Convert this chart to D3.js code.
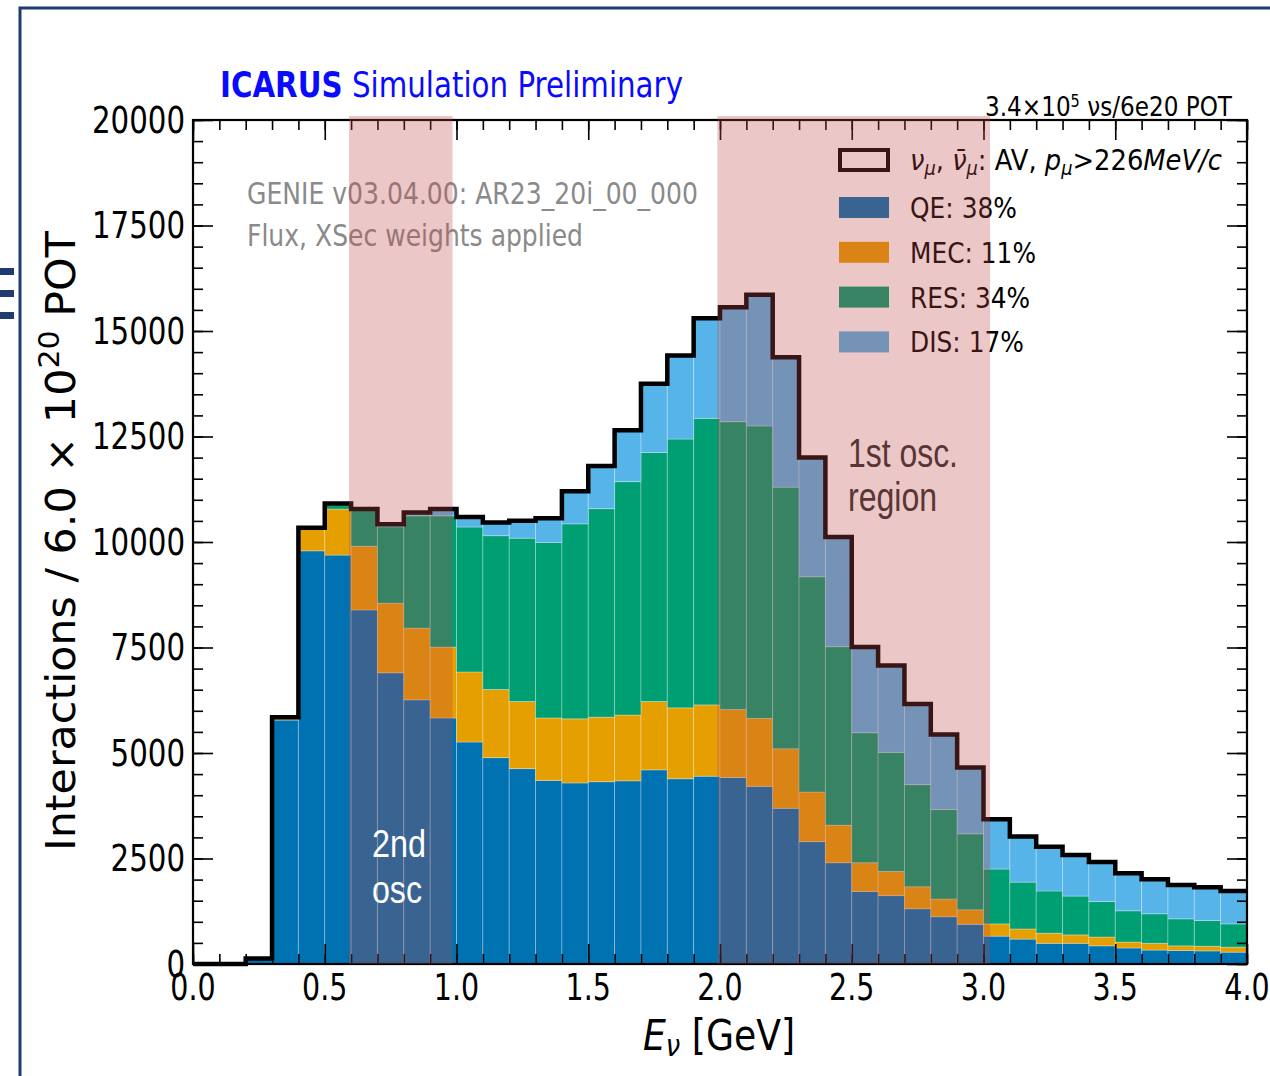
<!DOCTYPE html>
<html><head><meta charset="utf-8">
<script src="https://cdn.jsdelivr.net/npm/d3@7"></script>
<style>body{margin:0;background:#fff} svg{display:block} text{font-family:"DejaVu Sans",sans-serif}</style>
</head><body><svg id="c" width="1270" height="1076"></svg>
<script>
// ---------------- data ----------------
const binLow = [0.0,0.1,0.2,0.3,0.4,0.5,0.6,0.7,0.8,0.9,1.0,1.1,1.2,1.3,1.4,1.5,1.6,1.7,1.8,1.9,
                2.0,2.1,2.2,2.3,2.4,2.5,2.6,2.7,2.8,2.9,3.0,3.1,3.2,3.3,3.4,3.5,3.6,3.7,3.8,3.9];
const binWidth = 0.1;
const qe  = [0,0,120,5780,9790,9690,8390,6900,6260,5830, 5260,4890,4630,4350,4290,4320,4340,4600,4390,4450,
             4420,4210,3690,2900,2400,1720,1620,1310,1120,940, 660,590,490,490,430,380,330,320,310,280];
const mec = [0,0,10,50,530,1090,1510,1650,1700,1680, 1660,1615,1590,1480,1520,1530,1560,1620,1680,1690,
             1610,1610,1410,1175,890,680,575,520,420,345, 290,240,240,200,210,140,160,110,110,120];
const res = [0,0,0,20,20,100,860,1810,2660,3110, 3435,3645,3870,4160,4620,4940,5530,5900,6370,6790,
             6820,6930,6200,5100,4230,3080,2820,2420,2120,1800, 1300,1110,1000,920,840,740,700,640,610,550];
const dis = [0,0,0,0,0,30,20,60,80,160, 235,310,415,570,770,1010,1220,1630,1980,2370,
             2710,3110,3080,2830,2600,2030,2060,1910,1780,1570, 1180,1080,1050,970,940,890,820,800,790,780];
const seriesNames  = ["QE","MEC","RES","DIS"];
const seriesColors = ["#0072B2","#E69F00","#009E73","#56B4E9"];
const legendLabels = ["QE: 38%","MEC: 11%","RES: 34%","DIS: 17%"];
const legendWidths = [107,126,120,114];
const xTicks = [0.0,0.5,1.0,1.5,2.0,2.5,3.0,3.5,4.0];
const xTickLabels = ["0.0","0.5","1.0","1.5","2.0","2.5","3.0","3.5","4.0"];
const yTicks = [0,2500,5000,7500,10000,12500,15000,17500,20000];
const yTickLabels = ["0","2500","5000","7500","10000","12500","15000","17500","20000"];
const oscRegions = [[0.592,0.985],[1.99,3.025]];

// ---------------- setup ----------------
const svg = d3.select("#c");
const x = d3.scaleLinear().domain([0,4]).range([193,1247]);
const y = d3.scaleLinear().domain([0,20000]).range([964,120]);
const SX = 0.77;

function ctext(parent, px, py, str, o={}) {
  const g = parent.append("g").attr("transform", `translate(${px},${py})`);
  const t = g.append("text")
    .attr("transform", `scale(${o.sx ?? SX},1)`)
    .attr("text-anchor", o.anchor || "start")
    .attr("font-size", o.size || 36)
    .attr("fill", o.fill || "#000")
    .text(str);
  if (o.db) t.attr("dominant-baseline", o.db);
  return t;
}

// slide decoration
svg.append("rect").attr("width",1270).attr("height",1076).attr("fill","#fff");
svg.append("path").attr("d","M20,1076V8H1270").attr("fill","none").attr("stroke","#1f3b73").attr("stroke-width",3);
[268,290,312].forEach(v=>svg.append("rect").attr("x",0).attr("y",v).attr("width",14).attr("height",7).attr("fill","#1f3b73"));

// ---------------- bars ----------------
const rows = binLow.map((b,i)=>({x0:b, QE:qe[i], MEC:mec[i], RES:res[i], DIS:dis[i]}));
const stacked = d3.stack().keys(seriesNames)(rows);
const gBars = svg.append("g");
stacked.forEach((layer,k)=>{
  gBars.selectAll(null).data(layer).join("rect")
    .attr("x", d=>x(d.data.x0))
    .attr("width", d=>x(d.data.x0+binWidth)-x(d.data.x0))
    .attr("y", d=>y(d[1]))
    .attr("height", d=>Math.max(0,y(d[0])-y(d[1])))
    .attr("fill", seriesColors[k])
    .attr("stroke","rgba(255,255,255,0.28)").attr("stroke-width",1);
});

// total step outline
const totals = rows.map(r=>r.QE+r.MEC+r.RES+r.DIS);
const pts = [];
binLow.forEach((b,i)=>{ pts.push([b,totals[i]]); pts.push([b+binWidth,totals[i]]); });
svg.append("path").datum(pts)
  .attr("d", d3.line().x(d=>x(d[0])).y(d=>y(d[1])))
  .attr("fill","none").attr("stroke","#000").attr("stroke-width",4.5).attr("stroke-linejoin","miter");

// ---------------- axes ----------------
function styleAxis(g){ g.select(".domain").remove(); g.selectAll("line").attr("stroke","#000").attr("stroke-width",1.6); }
const yMinor = d3.range(0,20001,500);
const xMinor = d3.range(0,41,1).map(v=>v/10);
svg.append("g").attr("transform",`translate(${x(0)},0)`).call(d3.axisLeft(y).tickValues(yTicks).tickSize(-20).tickFormat("")).call(styleAxis);
svg.append("g").attr("transform",`translate(${x(0)},0)`).call(d3.axisLeft(y).tickValues(yMinor).tickSize(-10).tickFormat("")).call(styleAxis);
svg.append("g").attr("transform",`translate(${x(4)},0)`).call(d3.axisRight(y).tickValues(yTicks).tickSize(-20).tickFormat("")).call(styleAxis);
svg.append("g").attr("transform",`translate(${x(4)},0)`).call(d3.axisRight(y).tickValues(yMinor).tickSize(-10).tickFormat("")).call(styleAxis);
svg.append("g").attr("transform",`translate(0,${y(0)})`).call(d3.axisBottom(x).tickValues(xTicks).tickSize(-20).tickFormat("")).call(styleAxis);
svg.append("g").attr("transform",`translate(0,${y(0)})`).call(d3.axisBottom(x).tickValues(xMinor).tickSize(-10).tickFormat("")).call(styleAxis);
svg.append("g").attr("transform",`translate(0,${y(20000)})`).call(d3.axisTop(x).tickValues(xTicks).tickSize(-20).tickFormat("")).call(styleAxis);
svg.append("g").attr("transform",`translate(0,${y(20000)})`).call(d3.axisTop(x).tickValues(xMinor).tickSize(-10).tickFormat("")).call(styleAxis);
svg.append("rect").attr("x",x(0)).attr("y",y(20000)).attr("width",x(4)-x(0)).attr("height",y(0)-y(20000))
  .attr("fill","none").attr("stroke","#000").attr("stroke-width",2.2);

yTicks.forEach((v,i)=>ctext(svg, x(0)-8, y(v), yTickLabels[i], {anchor:"end", size:38, db:"central"}));
xTicks.forEach((v,i)=>ctext(svg, x(v), 1000, xTickLabels[i], {anchor:"middle", size:37}));

// axis titles
const yl = svg.append("text").attr("transform","translate(75,541) rotate(-90)")
  .attr("text-anchor","middle").attr("font-size",40).attr("textLength",620).attr("lengthAdjust","spacingAndGlyphs");
yl.append("tspan").text("Interactions / 6.0 × 10");
yl.append("tspan").attr("baseline-shift","super").attr("font-size",28).text("20");
yl.append("tspan").text(" POT");

const xl = svg.append("text").attr("x",719).attr("y",1050).attr("text-anchor","middle")
  .attr("font-size",42).attr("textLength",152).attr("lengthAdjust","spacingAndGlyphs");
xl.append("tspan").attr("font-style","italic").text("E");
xl.append("tspan").attr("font-style","italic").attr("baseline-shift","-6").attr("font-size",30).text("ν");
xl.append("tspan").attr("baseline-shift","0").text(" [GeV]");

// titles & annotations
const tt = svg.append("text").attr("x",220).attr("y",97).attr("font-size",36).attr("fill","#0a0aff")
  .attr("textLength",463).attr("lengthAdjust","spacingAndGlyphs");
tt.append("tspan").attr("font-weight","bold").text("ICARUS");
tt.append("tspan").text(" Simulation Preliminary");

const pot = svg.append("text").attr("x",985).attr("y",116).attr("font-size",27)
  .attr("textLength",247).attr("lengthAdjust","spacingAndGlyphs");
pot.append("tspan").text("3.4×10");
pot.append("tspan").attr("baseline-shift","9").attr("font-size",17).text("5");
pot.append("tspan").attr("baseline-shift","0").text(" νs/6e20 POT");

function fitText(px,py,str,len,size,fill,fam){
  const t = svg.append("text").attr("x",px).attr("y",py).attr("font-size",size).attr("fill",fill)
    .attr("textLength",len).attr("lengthAdjust","spacingAndGlyphs").text(str);
  if (fam) t.style("font-family", fam);
  return t;
}
fitText(247,204,"GENIE v03.04.00: AR23_20i_00_000",451,31,"#8a8a8a");
fitText(247,246,"Flux, XSec weights applied",336,31,"#8a8a8a");
fitText(848,467,"1st osc.",110,40,"#2e2e2e","Liberation Sans");
fitText(848,511,"region",89,40,"#2e2e2e","Liberation Sans");

// legend
const lg = svg.append("g");
lg.append("rect").attr("x",840).attr("y",150).attr("width",48).attr("height",20)
  .attr("fill","none").attr("stroke","#000").attr("stroke-width",4);
const l0 = lg.append("text").attr("x",910).attr("y",170).attr("font-size",29)
  .attr("textLength",312).attr("lengthAdjust","spacingAndGlyphs");
const subs = [["ν",true],["μ","sub"],[",  ",false],["ν̄",true],["μ","sub"],[": AV, ",false],["p",true],["μ","sub"],[">226",false],["MeV/c",true]];
subs.forEach(([s,k])=>{
  const t = l0.append("tspan").text(s);
  if (k==="sub") t.attr("font-style","italic").attr("font-size",20).attr("baseline-shift","-5");
  else { t.attr("baseline-shift","0"); if (k) t.attr("font-style","italic"); }
});
seriesNames.forEach((s,i)=>{
  const ty = 197 + i*44.8;
  lg.append("rect").attr("x",839).attr("y",ty).attr("width",50).attr("height",21).attr("fill",seriesColors[i]);
  lg.append("text").attr("x",910).attr("y",ty+21).attr("font-size",29)
    .attr("textLength",legendWidths[i]).attr("lengthAdjust","spacingAndGlyphs").text(legendLabels[i]);
});

// oscillation region overlays
oscRegions.forEach(r=>{
  svg.append("rect").attr("x",x(r[0])).attr("y",116).attr("width",x(r[1])-x(r[0])).attr("height",y(0)-116)
    .attr("fill","rgb(190,70,70)").attr("fill-opacity",0.3);
});

fitText(372,857,"2nd",54,38,"#fff","Liberation Sans");
fitText(372,903,"osc",50,38,"#fff","Liberation Sans");
</script></body></html>
